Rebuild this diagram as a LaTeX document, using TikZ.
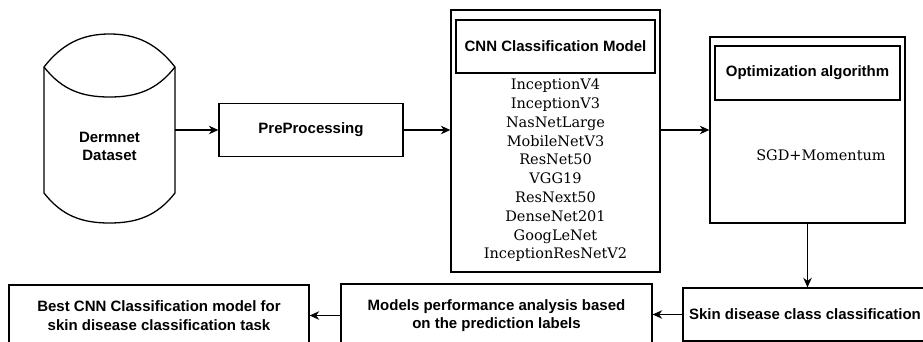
\documentclass[tikz,border=0pt]{standalone}
\usepackage{fontspec}
\setmainfont{Liberation Sans}
\newfontfamily\listfont{DejaVu Serif}
\usetikzlibrary{arrows.meta}

\tikzset{
  box/.style={draw=black, line width=1.3pt, inner sep=0pt, align=center,
    font=\bfseries\fontsize{15}{18.5}\selectfont},
  plain/.style={inner sep=0pt, align=center},
  modeltext/.style={plain, font=\listfont\fontsize{14.5}{18.8}\selectfont},
  flow/.style={draw=black, line width=1.4pt,
    -{Stealth[length=9.5pt, width=8.5pt, inset=3pt]}},
}

\begin{document}
\begin{tikzpicture}[x=1pt, y=-1pt]
\path[use as bounding box] (0,0) rectangle (923,342);
\clip (0,0) rectangle (923,342);

% Dataset drum
\draw[line width=1.3pt, fill=white]
  (44,67) .. controls (62,44) and (82,34) .. (109.5,34)
          .. controls (137,34) and (157,44) .. (175,67)
  -- (175,193) .. controls (157,216) and (137,223) .. (109.5,223)
               .. controls (82,223) and (62,216) .. (44,193) -- cycle;
\draw[line width=1.3pt]
  (44,67) .. controls (62,90) and (82,97) .. (109.5,97)
          .. controls (137,97) and (157,90) .. (175,67);
\node[plain, minimum width=131pt, minimum height=189pt] (ds) at (109.5,128.5) {};
\node[plain, font=\bfseries\fontsize{15}{18}\selectfont] (dslabel) at (109.5,146) {Dermnet\\Dataset};

% Pre-processing stage
\node[box, minimum width=184pt, minimum height=53pt] (pre) at (311,130) {PreProcessing};

% CNN model family
\node[box, minimum width=209pt, minimum height=262pt] (cnn) at (555.5,141) {};
\node[box, minimum width=199pt, minimum height=53pt] (cnntitle) at (555.5,46.5) {CNN Classification Model};
\node[modeltext] (models) at (555.5,170.5) {InceptionV4\\InceptionV3\\NasNetLarge\\MobileNetV3\\ResNet50\\VGG19\\ResNext50\\DenseNet201\\GoogLeNet\\InceptionResNetV2};

% Optimiser
\node[box, minimum width=195pt, minimum height=186pt] (opt) at (807.5,130) {};
\node[box, minimum width=185pt, minimum height=54pt] (opttitle) at (807.5,73) {Optimization algorithm};
\node[modeltext] (sgd) at (821,155) {SGD+Momentum};

% Bottom row
\node[box, minimum width=244pt, minimum height=53pt] (skin) at (805,314.5) {Skin disease class classification};
\node[box, minimum width=311pt, minimum height=63pt] (perf) at (496.5,315.5) {Models performance analysis based\\on the prediction labels};
\node[box, minimum width=300pt, minimum height=61pt] (best) at (159,315.5) {Best CNN Classification model for\\skin disease classification task};

% Connectors
\draw[flow] (ds.east |- pre.west) -- (pre.west);
\draw[flow] (pre.east) -- (pre.east -| cnn.west);
\draw[flow] (opt.west -| cnn.east) -- (opt.west);
\draw[flow] (opt.south) -- (opt.south |- skin.north);
\draw[flow] (skin.west) -- (skin.west -| perf.east);
\draw[flow] (perf.west) -- (perf.west -| best.east);
\end{tikzpicture}
\end{document}
